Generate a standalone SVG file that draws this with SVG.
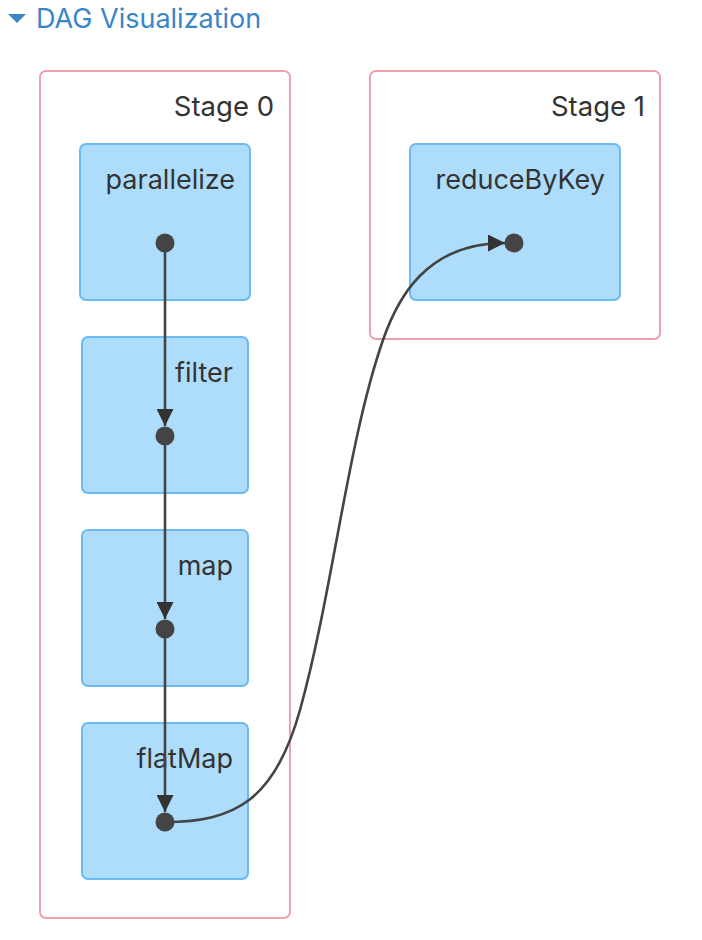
<svg xmlns="http://www.w3.org/2000/svg" width="702" height="940" viewBox="0 0 702 940">
<defs>
<style>
.title{font-family:Inter,"Liberation Sans",sans-serif;font-size:27px;fill:#3a85c6}
.stage rect{fill:#fff;stroke:#f0a0ac;stroke-width:2}
.stage text{font-family:Inter,"Liberation Sans",sans-serif;font-size:27.5px;fill:#333;text-anchor:end}
.node rect{fill:#aedcfb;stroke:#6cbaf2;stroke-width:2}
.node text{font-family:Inter,"Liberation Sans",sans-serif;font-size:27px;fill:#333;text-anchor:end}
.node circle{fill:#444}
.edge{fill:none;stroke:#444;stroke-width:2.6}
</style>
<marker id="arr" viewBox="0 0 10 10" refX="10" refY="5" markerWidth="17" markerHeight="17" markerUnits="userSpaceOnUse" orient="auto">
<path d="M0,0 L10,5 L0,10 Z" fill="#333"/>
</marker>
</defs>
<rect width="702" height="940" fill="#fff"/>
<g id="header">
<path d="M8,14 L26,14 L17,23 Z" fill="#3a85c6"/>
<text class="title" x="36" y="28">DAG Visualization</text>
</g>
<g id="stage0" class="stage">
<rect x="40" y="71" width="250" height="847" rx="6"/>
<text x="274" y="116">Stage 0</text>
</g>
<g id="stage1" class="stage">
<rect x="370" y="71" width="290" height="268" rx="6"/>
<text x="645" y="116">Stage 1</text>
</g>
<g id="parallelize" class="node">
<rect x="80" y="144" width="170" height="156" rx="6"/>
<text x="235" y="189">parallelize</text>
<circle cx="165" cy="243" r="9.5"/>
</g>
<g id="filter" class="node">
<rect x="82" y="337" width="166" height="156" rx="6"/>
<text x="233" y="382">filter</text>
<circle cx="165" cy="436" r="9.5"/>
</g>
<g id="map" class="node">
<rect x="82" y="530" width="166" height="156" rx="6"/>
<text x="233" y="575">map</text>
<circle cx="165" cy="629" r="9.5"/>
</g>
<g id="flatMap" class="node">
<rect x="82" y="723" width="166" height="156" rx="6"/>
<text x="233" y="768">flatMap</text>
<circle cx="165" cy="822" r="9.5"/>
</g>
<g id="reduceByKey" class="node">
<rect x="410" y="144" width="210" height="156" rx="6"/>
<text x="605" y="189">reduceByKey</text>
<circle cx="514" cy="243" r="9.5"/>
</g>
<g id="edges">
<path class="edge" d="M165,243 L165,426" marker-end="url(#arr)"/>
<path class="edge" d="M165,436 L165,619" marker-end="url(#arr)"/>
<path class="edge" d="M165,629 L165,812" marker-end="url(#arr)"/>
<path class="edge" d="M165,822 C235,822 275,800 300,710 C332.5,593 348,440 383,340 C397,300 425,243 505,243" marker-end="url(#arr)"/>
</g>
</svg>
